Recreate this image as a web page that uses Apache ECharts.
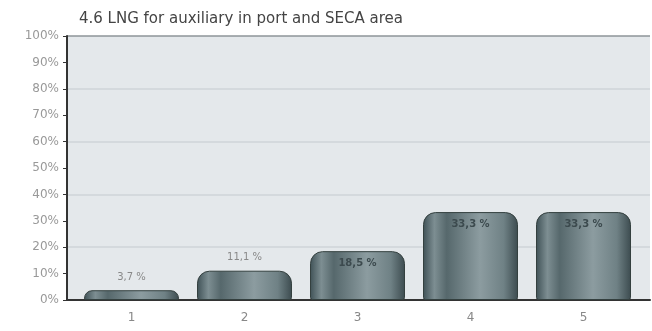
<!DOCTYPE html>
<html>
<head>
<meta charset="utf-8">
<script src="https://cdn.jsdelivr.net/npm/echarts@6/dist/echarts.min.js"></script>
<style>
  html, body { margin: 0; padding: 0; background: #fff; }
  #chart { width: 652px; height: 331px; }
</style>
</head>
<body>
<div id="chart"></div>
<script>
// answers 1..5, share of respondents (%)
var categories = ["1", "2", "3", "4", "5"];
var shares = [3.7, 11.1, 18.5, 33.3, 33.3];
var labelsInside = [false, false, true, true, true];

var barFill = new echarts.graphic.LinearGradient(0, 0, 1, 0, [
  { offset: 0, color: "#3f5156" },
  { offset: 0.12, color: "#7d8e92" },
  { offset: 0.25, color: "#56686c" },
  { offset: 0.6, color: "#8c9ca0" },
  { offset: 0.85, color: "#6f8185" },
  { offset: 1, color: "#3c4b4f" }
]);

var chart = echarts.init(document.getElementById("chart"));
var option = {
  animation: false,
  title: {
    text: "4.6 LNG for auxiliary in port and SECA area",
    left: 74,
    top: 7,
    textStyle: { fontFamily: "DejaVu Sans", fontSize: 15, fontWeight: "normal", color: "#444" }
  },
  grid: [
    // frame: background, axis lines, 20% grid lines
    { left: 67, right: 2, top: 36, bottom: 31, show: true, backgroundColor: "#e4e8eb", borderWidth: 0 },
    // bars
    { left: 75, right: 12, top: 36, bottom: 31 }
  ],
  xAxis: [
    {
      gridIndex: 0, type: "value", min: 0, max: 1,
      axisLine: { show: true, onZero: false, lineStyle: { color: "#333", width: 2 } },
      axisTick: { show: false }, axisLabel: { show: false }, splitLine: { show: false }
    },
    {
      gridIndex: 1, type: "category", data: categories,
      axisLine: { show: false },
      axisTick: { alignWithLabel: true, length: 4, lineStyle: { color: "#333" } },
      axisLabel: { color: "#888", fontFamily: "DejaVu Sans", fontSize: 12, margin: 12 },
      splitLine: { show: false }
    }
  ],
  yAxis: [
    {
      gridIndex: 0, type: "value", min: 0, max: 100, interval: 20,
      axisLine: { show: true, lineStyle: { color: "#333", width: 2 } },
      axisTick: { show: false }, axisLabel: { show: false },
      splitLine: { show: true, lineStyle: { color: ["#cfd4d8", "#cfd4d8", "#cfd4d8", "#cfd4d8", "#cfd4d8", "#8e9599"], width: 1.5 } }
    },
    {
      gridIndex: 1, type: "value", min: 0, max: 100, interval: 10, offset: 8,
      axisLine: { show: false },
      axisTick: { show: true, length: 4, lineStyle: { color: "#333" } },
      axisLabel: {
        color: "#999", fontFamily: "DejaVu Sans", fontSize: 12, margin: 8,
        formatter: "{value}%"
      },
      splitLine: { show: false }
    }
  ],
  series: [{
    type: "bar",
    xAxisIndex: 1,
    yAxisIndex: 1,
    barWidth: 95,
    data: shares.map(function (v, i) {
      return {
        value: v,
        label: labelsInside[i]
          ? { position: "insideTop", distance: 7, color: "#3c4a4e", fontWeight: "bold" }
          : { position: "top", distance: 8, color: "#888" }
      };
    }),
    itemStyle: {
      color: barFill,
      borderColor: "#34403f",
      borderWidth: 1,
      borderRadius: [12, 12, 2, 2]
    },
    label: {
      show: true,
      fontFamily: "DejaVu Sans",
      fontSize: 10,
      formatter: function (p) { return p.value.toFixed(1).replace(".", ",") + " %"; }
    }
  }]
};
chart.setOption(option);
</script>
</body>
</html>
